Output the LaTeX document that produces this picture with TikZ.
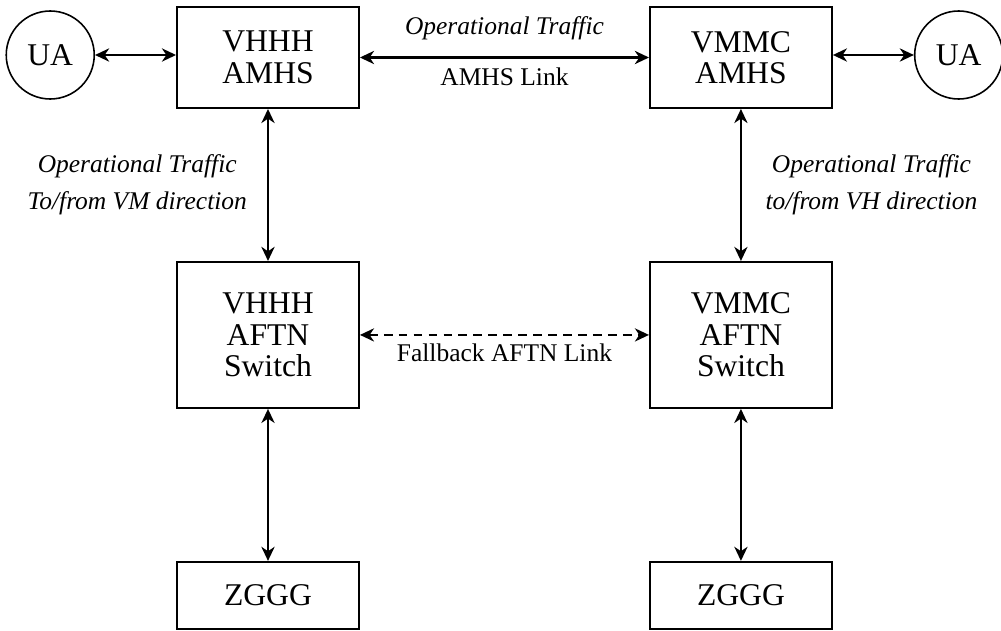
\documentclass[tikz,border=0pt]{standalone}
\usepackage{fontspec}
\setmainfont{Liberation Serif}
\usepackage{tikz}
\usetikzlibrary{shapes.geometric, arrows.meta, positioning}
\tikzset{
    myarrow/.style={{Stealth[length=8pt,width=7.5pt,inset=2.5pt]}-{Stealth[length=8pt,width=7.5pt,inset=2.5pt]}, line width=1.3pt},
    box/.style={draw, rectangle, line width=1.1pt, font=\fontsize{18}{18}\selectfont, minimum width=3.64cm, align=center},
    ua/.style={draw, circle, line width=0.9pt, font=\fontsize{18}{18}\selectfont, minimum size=1.76cm, inner sep=0pt, yshift=0.05cm},
    lbl/.style={font=\fontsize{14.5}{21}\selectfont, align=center},
    ilbl/.style={lbl, font=\fontsize{14.5}{21}\selectfont\itshape}
}

\begin{document}
\begin{tikzpicture}[node distance=3.04cm and 5.78cm]
    \useasboundingbox (0,0) rectangle (20.02,12.6);

    % AMHS row
    \node (vhamhs) [box, minimum height=2.02cm] at (5.36,11.45) {VHHH\\AMHS};
    \node (vmamhs) [box, minimum height=2.02cm, right=of vhamhs] {VMMC\\AMHS};
    \node (ual) [ua, left=1.62cm of vhamhs] {UA};
    \node (uar) [ua, right=1.62cm of vmamhs] {UA};

    % AFTN switches
    \node (vhaftn) [box, minimum height=2.92cm, below=of vhamhs] {VHHH\\AFTN\\Switch};
    \node (vmaftn) [box, minimum height=2.92cm, below=of vmamhs] {VMMC\\AFTN\\Switch};

    % ZGGG at the bottom
    \node (zgl) [box, minimum height=1.34cm, below=of vhaftn] {ZGGG};
    \node (zgr) [box, minimum height=1.34cm, below=of vmaftn] {ZGGG};

    \draw [myarrow] (ual) -- (ual -| vhamhs.west);
    \draw [myarrow] (uar) -- (uar -| vmamhs.east);
    \draw [myarrow] (vhamhs) -- (vmamhs)
        node [ilbl, midway, above=6pt] (optop) {Operational Traffic}
        node [lbl, midway, below=2pt] (amhslink) {AMHS Link};
    \draw [myarrow] (vhamhs) -- (vhaftn)
        node [ilbl, midway, left=8pt] (opleft) {Operational Traffic\\To/from VM direction};
    \draw [myarrow] (vmamhs) -- (vmaftn)
        node [ilbl, midway, right=10pt] (opright) {Operational Traffic\\to/from VH direction};
    \draw [myarrow, dash pattern=on 5pt off 3.5pt] (vhaftn) -- (vmaftn)
        node [lbl, midway, below=1pt] (fallback) {Fallback AFTN Link};
    \draw [myarrow] (vhaftn) -- (zgl);
    \draw [myarrow] (vmaftn) -- (zgr);
\end{tikzpicture}
\end{document}
